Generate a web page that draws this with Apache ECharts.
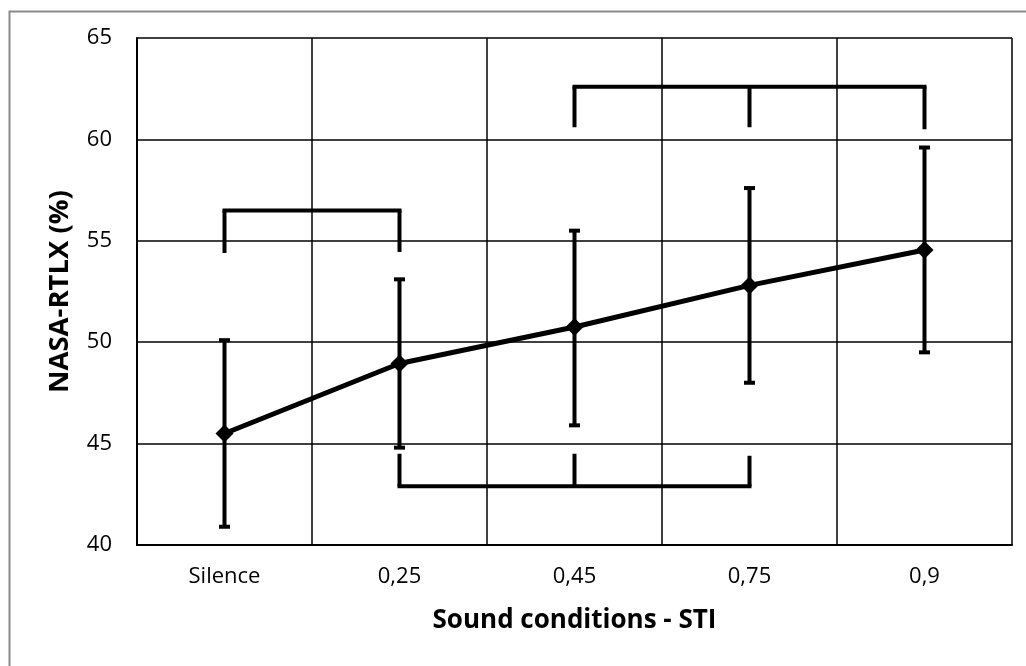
<!DOCTYPE html>
<html>
<head>
<meta charset="utf-8">
<script src="https://cdn.jsdelivr.net/npm/echarts@6/dist/echarts.min.js"></script>
<style>
html,body{margin:0;padding:0;background:#fff;}
#chart{width:1026px;height:666px;}
</style>
</head>
<body>
<div id="chart"></div>
<script>
// ---- data ----
const categories = ['Silence', '0,25', '0,45', '0,75', '0,9'];
const means = [45.5, 48.95, 50.75, 52.8, 54.55];
const errLow = [40.9, 44.8, 45.9, 48.0, 49.5];
const errHigh = [50.1, 53.1, 55.5, 57.6, 59.6];
const yTicks = { min: 40, max: 65, step: 5 };
// significance brackets: category indices joined, bar level, leg end levels
const bracketIdx = [[0, 1], [2, 3, 4], [1, 2, 3]];
const bracketBar = [56.5, 62.6, 42.9];
const bracketEnds = [[54.4, 54.45], [60.6, 60.6, 60.5], [44.5, 44.5, 44.4]];

const FONT = '"Open Sans", "Noto Sans", sans-serif';
const chart = echarts.init(document.getElementById('chart'), null, { renderer: 'canvas' });

const option = {
  backgroundColor: '#ffffff',
  animation: false,
  graphic: [{
    type: 'rect',
    left: 7, top: 9,
    shape: { width: 1100, height: 700 },
    style: { fill: 'none', stroke: '#8a8a8a', lineWidth: 2 },
    silent: true, z: -10
  }],
  grid: { left: 137, right: 14, top: 38, bottom: 121, containLabel: false },
  xAxis: {
    type: 'category',
    data: categories,
    boundaryGap: true,
    axisLine: { show: true, lineStyle: { color: '#000', width: 2 } },
    axisTick: { show: false },
    splitLine: { show: true, lineStyle: { color: '#000', width: 1.5 } },
    axisLabel: { color: '#000', fontFamily: FONT, fontSize: 22, margin: 21 },
    name: 'Sound conditions - STI',
    nameLocation: 'middle',
    nameGap: 63,
    nameTextStyle: { color: '#000', fontFamily: FONT, fontSize: 26, fontWeight: 'bold' }
  },
  yAxis: {
    type: 'value',
    min: yTicks.min, max: yTicks.max, interval: yTicks.step,
    axisLine: { show: true, lineStyle: { color: '#000', width: 2 } },
    axisTick: { show: false },
    splitLine: { show: true, lineStyle: { color: '#000', width: 1.5 } },
    axisLabel: { color: '#000', fontFamily: FONT, fontSize: 22, margin: 25 },
    name: 'NASA-RTLX (%)',
    nameLocation: 'middle',
    nameGap: 63,
    nameTextStyle: { color: '#000', fontFamily: FONT, fontSize: 27.5, fontWeight: 'bold' }
  },
  series: [
    {
      type: 'custom',
      name: 'errors',
      data: categories.map((c, i) => [i, errLow[i], errHigh[i]]),
      encode: { x: 0, y: [1, 2] },
      z: 3,
      renderItem: function (params, api) {
        const x = api.value(0);
        const lo = api.coord([x, api.value(1)]);
        const hi = api.coord([x, api.value(2)]);
        const cw = 5.5;
        const st = { stroke: '#000', lineWidth: 4 };
        return {
          type: 'group',
          children: [
            { type: 'line', shape: { x1: lo[0], y1: lo[1], x2: hi[0], y2: hi[1] }, style: st },
            { type: 'line', shape: { x1: lo[0] - cw, y1: lo[1], x2: lo[0] + cw, y2: lo[1] }, style: st },
            { type: 'line', shape: { x1: hi[0] - cw, y1: hi[1], x2: hi[0] + cw, y2: hi[1] }, style: st }
          ]
        };
      }
    },
    {
      type: 'custom',
      name: 'brackets',
      data: bracketIdx.map((idx, k) => [idx[0], bracketBar[k]]),
      encode: { x: 0, y: 1 },
      z: 3,
      renderItem: function (params, api) {
        const k = params.dataIndex;
        const idx = bracketIdx[k];
        const bar = bracketBar[k];
        const ends = bracketEnds[k];
        const st = { stroke: '#000', lineWidth: 4, fill: null };
        const first = api.coord([idx[0], bar]);
        const last = api.coord([idx[idx.length - 1], bar]);
        const children = [
          { type: 'line', shape: { x1: first[0] - 2, y1: first[1], x2: last[0] + 2, y2: last[1] }, style: st }
        ];
        idx.forEach((ci, j) => {
          const a = api.coord([ci, bar]);
          const b = api.coord([ci, ends[j]]);
          children.push({ type: 'line', shape: { x1: a[0], y1: a[1], x2: b[0], y2: b[1] }, style: st });
        });
        return { type: 'group', children: children };
      }
    },
    {
      type: 'line',
      name: 'NASA-RTLX',
      data: means,
      z: 4,
      symbol: 'diamond',
      symbolSize: 18,
      showSymbol: true,
      itemStyle: { color: '#000' },
      lineStyle: { color: '#000', width: 5 }
    }
  ]
};
chart.setOption(option);
</script>
</body>
</html>
